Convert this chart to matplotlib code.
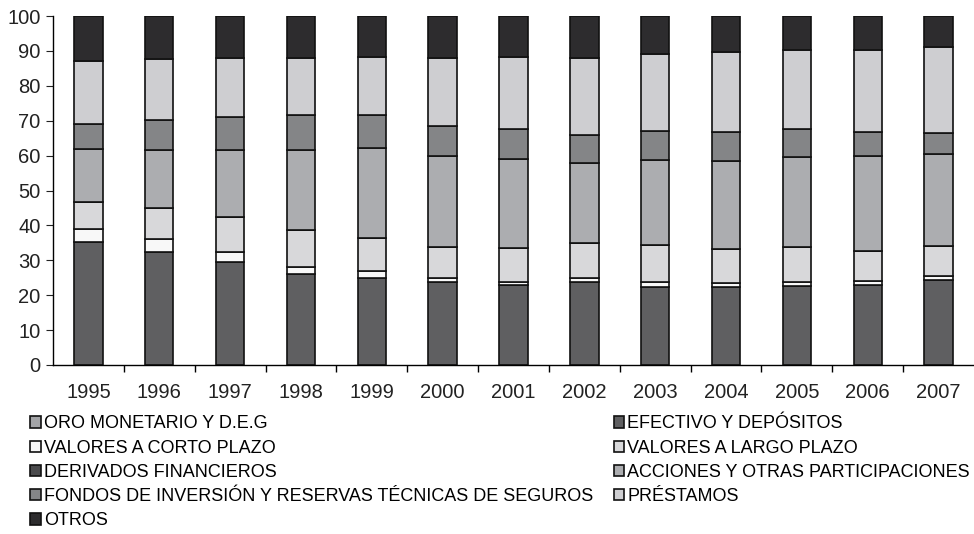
import matplotlib
matplotlib.use('Agg')
import matplotlib.pyplot as plt
import numpy as np

plt.rcParams['font.family'] = ['Liberation Sans', 'DejaVu Sans']

years = ['1995', '1996', '1997', '1998', '1999', '2000', '2001',
         '2002', '2003', '2004', '2005', '2006', '2007']

# porcentajes (orden de apilado de abajo hacia arriba)
oro = [0.0] * 13
efectivo = [35.3, 32.5, 29.4, 26.1, 24.8, 23.7, 22.9, 23.7, 22.4, 22.3, 22.7, 22.9, 24.4]
valores_corto = [3.7, 3.5, 2.9, 2.1, 2.1, 1.1, 1.0, 1.3, 1.3, 1.1, 1.2, 1.2, 1.2]
valores_largo = [7.6, 8.9, 10.0, 10.4, 9.6, 9.0, 9.6, 10.1, 10.6, 9.9, 10.0, 8.7, 8.6]
derivados = [0.0] * 13
acciones = [15.3, 16.7, 19.3, 23.0, 25.6, 26.1, 25.6, 22.7, 24.4, 25.2, 25.8, 27.1, 26.3]
fondos = [7.2, 8.6, 9.6, 10.0, 9.5, 8.6, 8.5, 8.1, 8.3, 8.3, 7.8, 7.0, 6.1]
prestamos = [18.0, 17.4, 16.9, 16.5, 16.6, 19.6, 20.6, 22.2, 22.1, 22.8, 22.8, 23.4, 24.4]
otros = [12.9, 12.4, 11.9, 11.9, 11.8, 11.9, 11.8, 11.9, 10.9, 10.4, 9.7, 9.7, 9.0]

series = [
    ('ORO MONETARIO Y D.E.G', oro, '#a3a4a7'),
    ('EFECTIVO Y DEPÓSITOS', efectivo, '#5f5f61'),
    ('VALORES A CORTO PLAZO', valores_corto, '#f8f8f8'),
    ('VALORES A LARGO PLAZO', valores_largo, '#d8d8da'),
    ('DERIVADOS FINANCIEROS', derivados, '#4a4a4c'),
    ('ACCIONES Y OTRAS PARTICIPACIONES', acciones, '#acadb0'),
    ('FONDOS DE INVERSIÓN Y RESERVAS TÉCNICAS DE SEGUROS', fondos, '#848587'),
    ('PRÉSTAMOS', prestamos, '#ceced1'),
    ('OTROS', otros, '#2d2c2e'),
]

fig = plt.figure(figsize=(9.74, 5.34), dpi=100)
ax = fig.add_axes([0.0544, 0.3165, 0.9456, 0.6535])

x = np.arange(len(years))
bottom = np.zeros(len(years))
handles = []
for name, vals, col in series:
    b = ax.bar(x, vals, width=0.4, bottom=bottom, color=col,
               edgecolor='#111111', linewidth=1.2, label=name)
    handles.append(b)
    bottom += np.array(vals)

ax.set_xlim(-0.5, len(years) - 0.5)
ax.set_ylim(0, 100)
ax.set_yticks(range(0, 101, 10))
ax.set_xticks(x)
ax.set_xticklabels(years)
ax.set_xticks(np.arange(0.5, len(years) - 0.5, 1), minor=True)
ax.tick_params(axis='x', which='major', length=0, labelsize=14.5, pad=13, colors='#222222')
ax.tick_params(axis='x', which='minor', length=5, direction='out', width=1)
ax.tick_params(axis='y', length=5, direction='out', labelsize=14.5, pad=4, colors='#222222')
for s in ['top', 'right']:
    ax.spines[s].set_visible(False)
ax.spines['left'].set_linewidth(1)
ax.spines['bottom'].set_linewidth(1)

# leyenda en dos columnas, ordenada por filas
leg_kw = dict(loc='upper left', frameon=False, fontsize=13, handlelength=0.6,
              handleheight=0.6, handletextpad=0.15, labelspacing=0.4,
              borderpad=0, borderaxespad=0)
left_idx = [0, 2, 4, 6, 8]
right_idx = [1, 3, 5, 7]
leg1 = fig.legend([handles[i] for i in left_idx], [series[i][0] for i in left_idx],
                  bbox_to_anchor=(0.031, 0.222), **leg_kw)
leg2 = fig.legend([handles[i] for i in right_idx], [series[i][0] for i in right_idx],
                  bbox_to_anchor=(0.630, 0.222), **leg_kw)

fig.savefig('out.png', dpi=100)
